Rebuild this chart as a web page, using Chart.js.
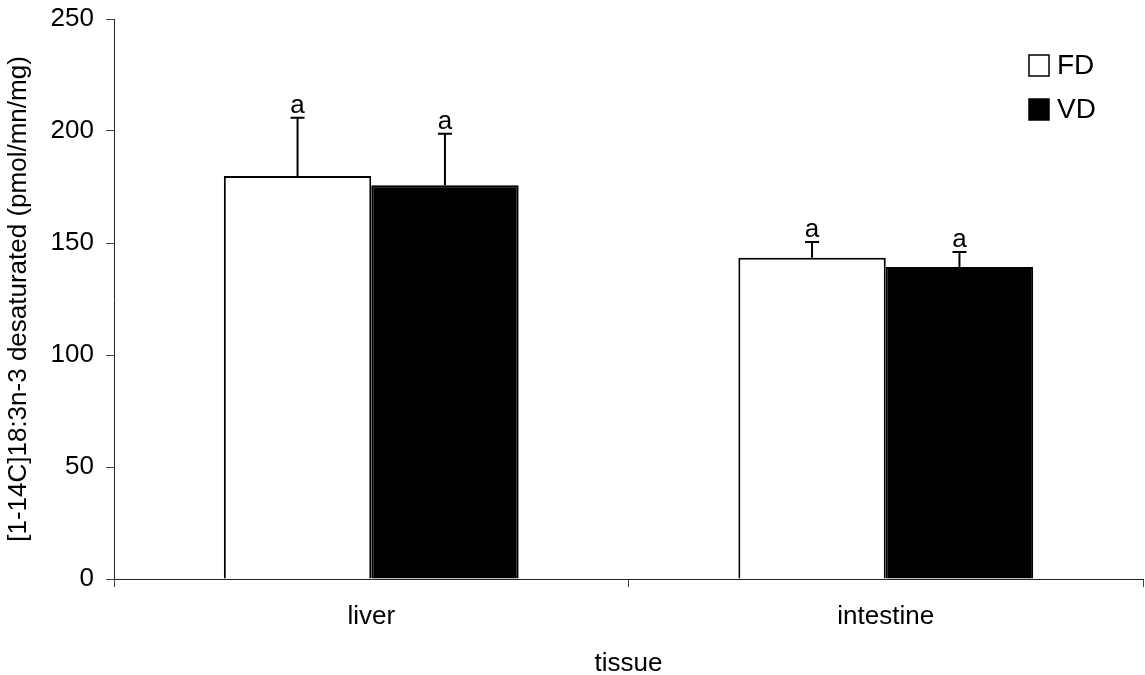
<!DOCTYPE html>
<html>
<head>
<meta charset="utf-8">
<title>desaturation</title>
<script src="https://cdn.jsdelivr.net/npm/chart.js@4.4.1/dist/chart.umd.min.js"></script>
<style>
  body { margin: 0; background: #fff; }
  #wrap { width: 1145px; height: 675px; }
</style>
</head>
<body>
<div id="wrap"><canvas id="myChart" width="1145" height="675"></canvas></div>
<script>
// values
const categories = ['liver', 'intestine'];
const fdMean = [179.9, 143.4];
const vdMean = [175.8, 139.3];
const fdErr = [26, 7];
const vdErr = [23, 6.7];
const fdLetters = ['a', 'a'];
const vdLetters = ['a', 'a'];
const yTicks = [0, 50, 100, 150, 200, 250];

const FONT = 'Liberation Sans, Arial, sans-serif';

// error bars (up only) with the letter above each cap
const errorBars = {
  id: 'errorBars',
  afterDatasetsDraw(chart) {
    const ctx = chart.ctx;
    const y = chart.scales.y;
    chart.data.datasets.forEach((ds, i) => {
      const meta = chart.getDatasetMeta(i);
      meta.data.forEach((bar, j) => {
        const top = y.getPixelForValue(ds.data[j] + ds.err[j]);
        ctx.save();
        ctx.strokeStyle = '#000';
        ctx.lineWidth = 2;
        ctx.beginPath();
        ctx.moveTo(bar.x, bar.y);
        ctx.lineTo(bar.x, top);
        ctx.moveTo(bar.x - 7, top);
        ctx.lineTo(bar.x + 7, top);
        ctx.stroke();
        ctx.fillStyle = '#000';
        ctx.font = '26px ' + FONT;
        ctx.textAlign = 'center';
        ctx.textBaseline = 'alphabetic';
        ctx.fillText(ds.letters[j], bar.x, top - 5);
        ctx.restore();
      });
    });
  }
};

// small legend in the top right corner of the plot
const boxLegend = {
  id: 'boxLegend',
  afterDraw(chart) {
    const ctx = chart.ctx;
    const area = chart.chartArea;
    chart.data.datasets.forEach((ds, i) => {
      const bx = area.right - 114;
      const by = area.top + 36 + i * 44;
      ctx.save();
      ctx.fillStyle = ds.backgroundColor;
      ctx.strokeStyle = '#000';
      ctx.lineWidth = 1.5;
      ctx.fillRect(bx, by, 20, 21);
      ctx.strokeRect(bx, by, 20, 21);
      ctx.fillStyle = '#000';
      ctx.font = '28px ' + FONT;
      ctx.textAlign = 'left';
      ctx.textBaseline = 'middle';
      ctx.fillText(ds.label, bx + 28, by + 11);
      ctx.restore();
    });
  }
};

const data = {
  labels: categories,
  datasets: [{
    label: 'FD',
    data: fdMean,
    err: fdErr,
    letters: fdLetters,
    backgroundColor: '#ffffff',
    borderColor: '#000000',
    borderWidth: 2,
    borderSkipped: 'start'
  }, {
    label: 'VD',
    data: vdMean,
    err: vdErr,
    letters: vdLetters,
    backgroundColor: '#000000',
    borderColor: '#000000',
    borderWidth: 2,
    borderSkipped: 'start'
  }]
};

const config = {
  type: 'bar',
  data: data,
  options: {
    responsive: false,
    animation: false,
    devicePixelRatio: 1,
    layout: { padding: { top: 19, right: 2, left: 0, bottom: 0 } },
    categoryPercentage: 0.573,
    barPercentage: 1.0,
    plugins: {
      legend: { display: false },
      tooltip: { enabled: false }
    },
    scales: {
      x: {
        afterFit(scale) {
          scale.height = 96;
          scale.paddingLeft = 0;
          scale.paddingRight = 0;
        },
        grid: {
          offset: true,
          drawOnChartArea: false,
          drawTicks: true,
          tickLength: 8,
          color: '#444'
        },
        border: { display: true, color: '#222', width: 1 },
        ticks: { color: '#000', padding: 14, font: { family: FONT, size: 26 } },
        title: {
          display: true,
          text: 'tissue',
          color: '#000',
          font: { family: FONT, size: 26 },
          padding: { top: 0, bottom: -4 }
        }
      },
      y: {
        min: 0,
        max: 250,
        afterFit(scale) {
          scale.width = 114;
          scale.paddingTop = 0;
          scale.paddingBottom = 0;
        },
        afterBuildTicks(scale) { scale.ticks = yTicks.map(v => ({ value: v })); },
        grid: {
          drawOnChartArea: false,
          drawTicks: true,
          tickLength: 8,
          color: '#444'
        },
        border: { display: true, color: '#222', width: 1 },
        ticks: { color: '#000', padding: 12, font: { family: FONT, size: 26 } },
        title: {
          display: true,
          text: '[1-14C]18:3n-3 desaturated (pmol/mn/mg)',
          color: '#000',
          font: { family: FONT, size: 26 },
          padding: { top: 3, bottom: 0 }
        }
      }
    }
  },
  plugins: [errorBars, boxLegend]
};

const myChart = new Chart(document.getElementById('myChart'), config);
</script>
</body>
</html>
